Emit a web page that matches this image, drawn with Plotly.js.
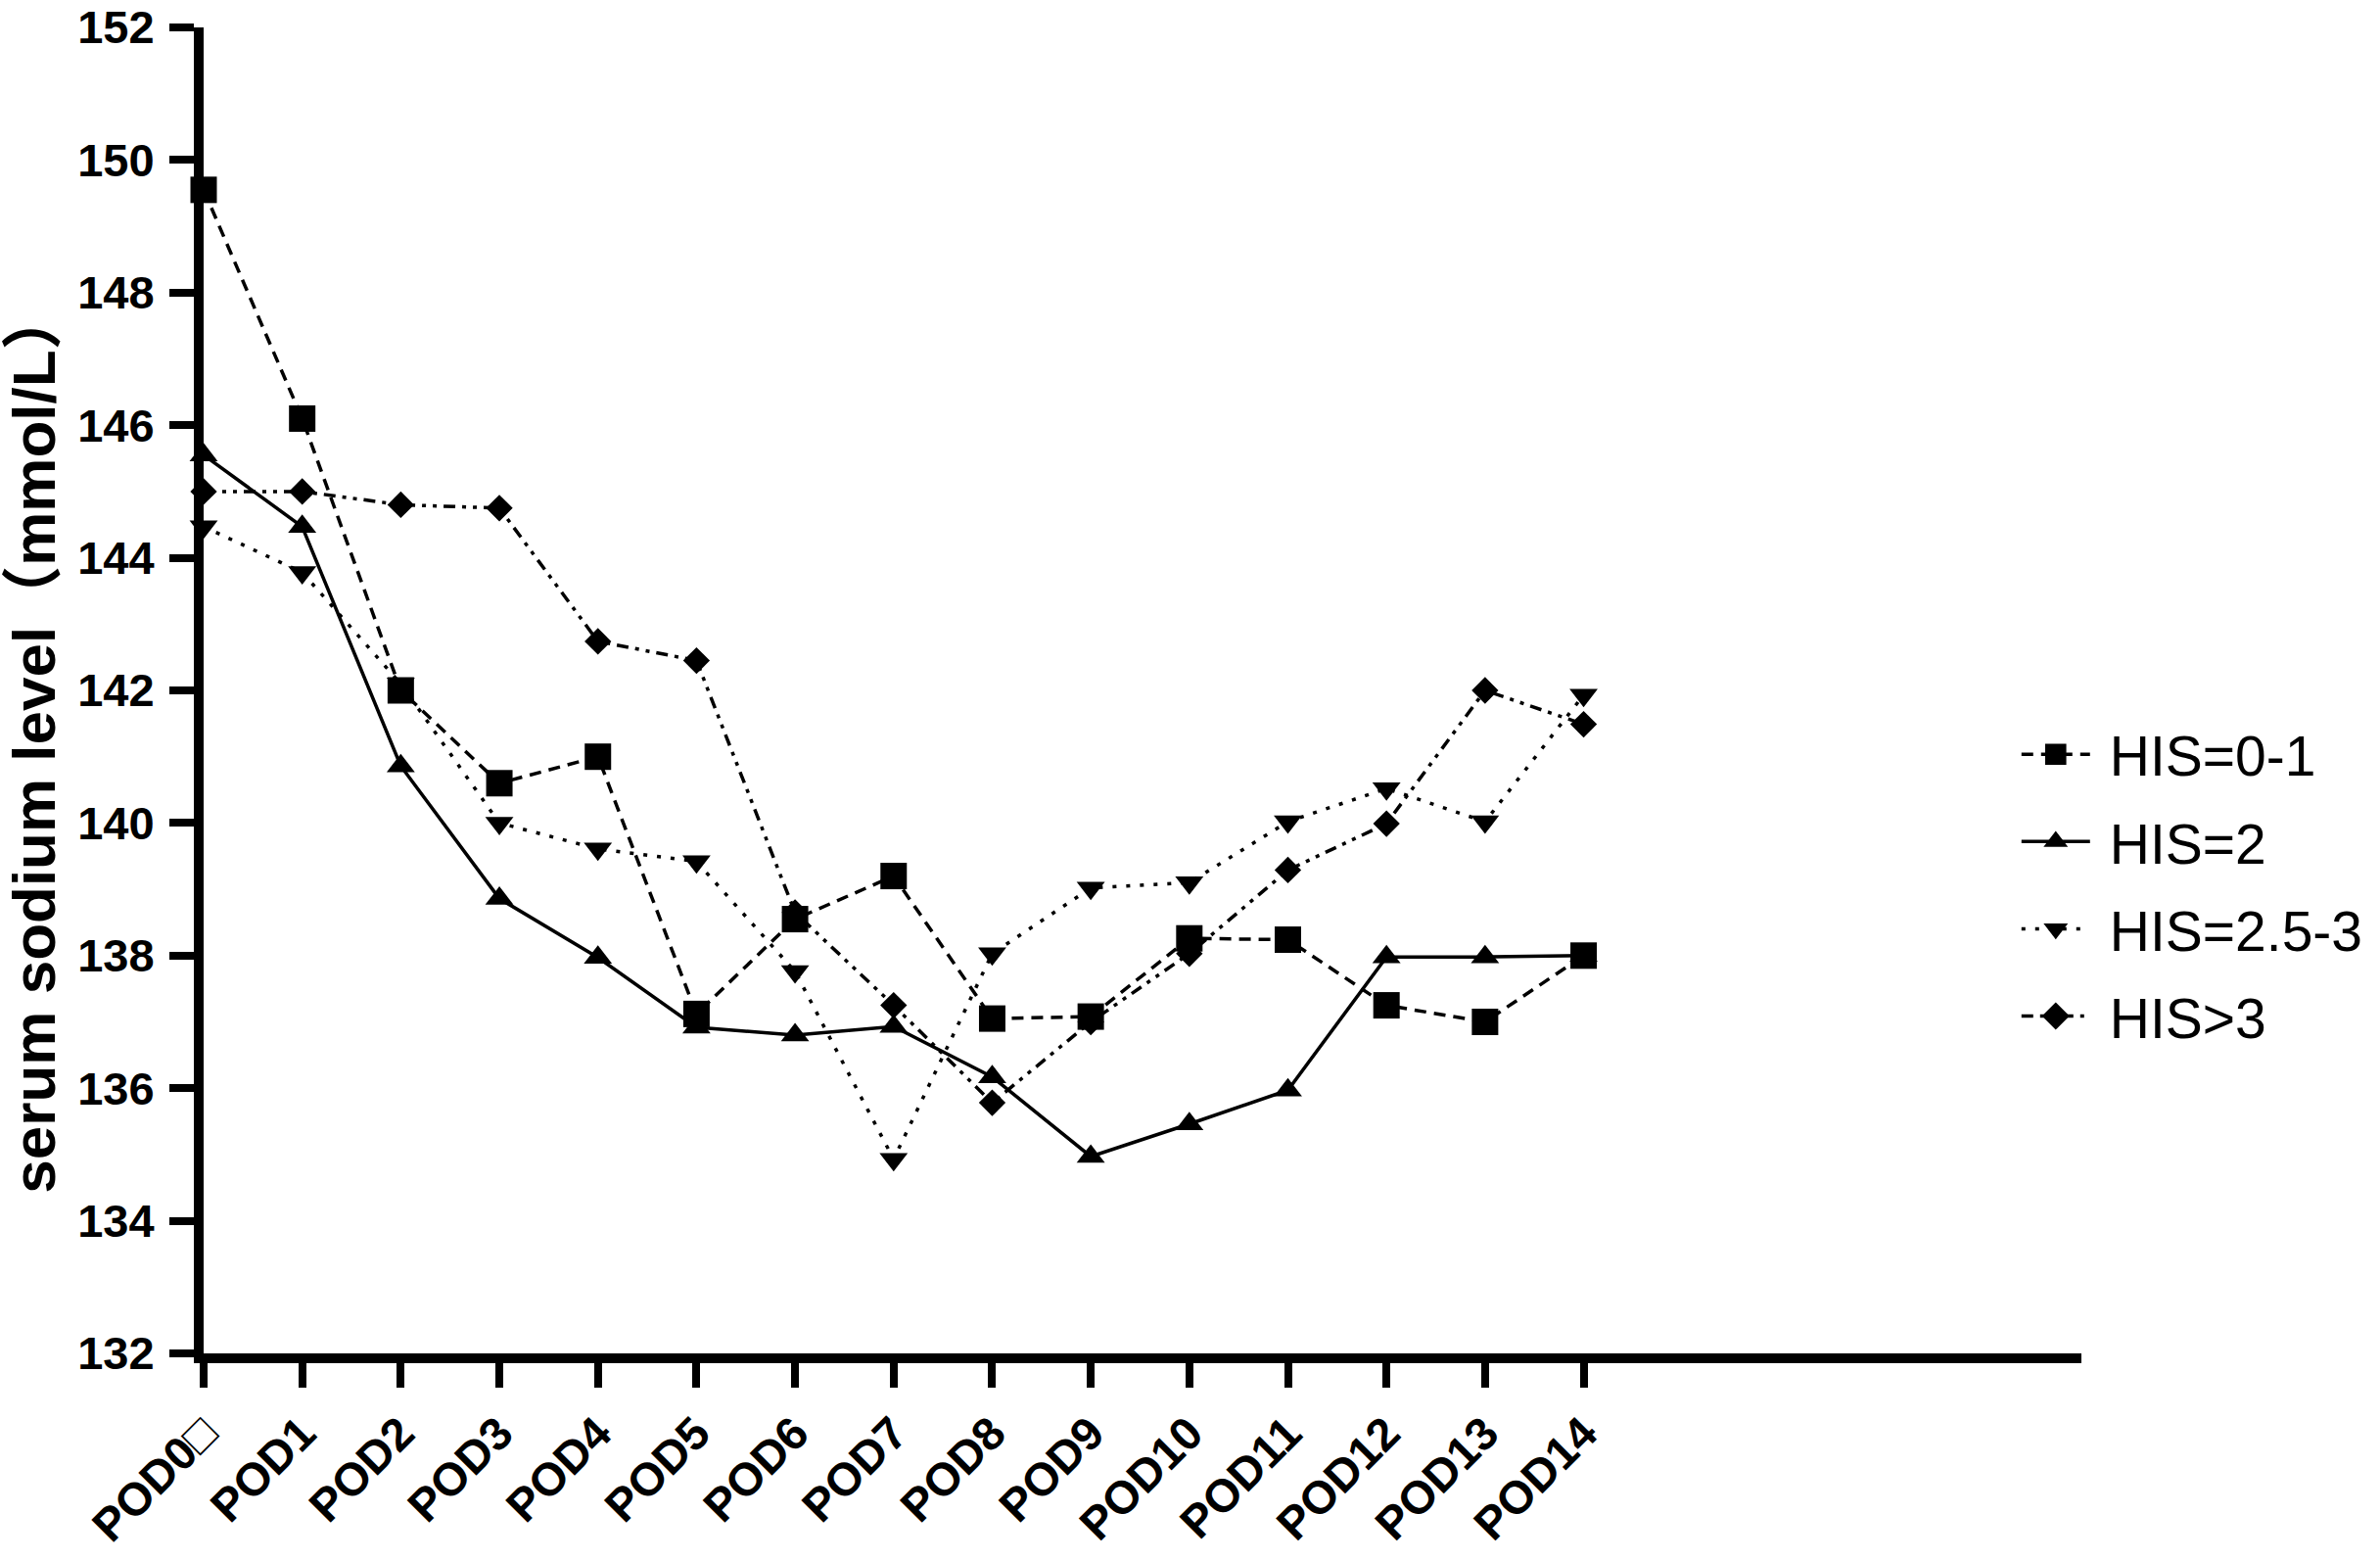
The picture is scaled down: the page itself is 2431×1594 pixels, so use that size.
<!DOCTYPE html>
<html>
<head>
<meta charset="utf-8">
<script src="https://cdn.plot.ly/plotly-3.0.1.min.js"></script>
<style>
  html, body { margin: 0; padding: 0; background: #ffffff; }
  #chart { width: 2431px; height: 1594px; }
</style>
</head>
<body>
<div id="chart"></div>
<script>
// ---- data ----
const days = [0, 1, 2, 3, 4, 5, 6, 7, 8, 9, 10, 11, 12, 13, 14];
const dayLabels = ["POD0\u25A1", "POD1", "POD2", "POD3", "POD4", "POD5", "POD6", "POD7",
                   "POD8", "POD9", "POD10", "POD11", "POD12", "POD13", "POD14"];
const his01  = [149.55, 146.1, 142.0, 140.6, 141.0, 137.12, 138.55, 139.2, 137.05, 137.08, 138.26, 138.24, 137.25, 137.0, 138.0];
const his2   = [145.55, 144.47, 140.86, 138.86, 137.97, 136.92, 136.8, 136.93, 136.17, 134.97, 135.46, 135.97, 137.98, 137.98, 138.0];
const his253 = [144.47, 143.78, 142.1, 140.0, 139.61, 139.42, 137.76, 134.93, 138.03, 139.02, 139.1, 140.02, 140.52, 140.02, 141.93];
const hisGt3 = [145.0, 145.0, 144.8, 144.75, 142.74, 142.45, 138.65, 137.25, 135.78, 137.0, 138.03, 139.29, 139.99, 142.0, 141.49];
const seriesNames = ["HIS=0-1", "HIS=2", "HIS=2.5-3", "HIS>3"];
const yTicks = [132, 134, 136, 138, 140, 142, 144, 146, 148, 150, 152];
const yTitle = "serum sodium level\uFF08mmol/L\uFF09";

const black = "#000000";
function mk(name, y, symbol, size, dash, grp) {
  return {
    type: "scatter", mode: "lines+markers", name: name, x: days, y: y,
    legendgroup: grp, cliponaxis: false,
    line: { color: black, width: 3.5, dash: dash },
    marker: { color: black, symbol: symbol, size: size, line: { width: 0 } }
  };
}

const traces = [
  mk(seriesNames[0], his01,  "square",        27, "12px,8px", "a"),
  mk(seriesNames[1], his2,   "triangle-up",   25, "solid", "b"),
  mk(seriesNames[2], his253, "triangle-down", 25, "4px,10px", "c"),
  mk(seriesNames[3], hisGt3, "diamond",       21, "12px,7px,4px,7px,4px,7px", "d")
];

const tickFont = { family: "Liberation Sans, Arial, sans-serif", size: 47, color: black, weight: "bold" };

const layout = {
  width: 2431, height: 1594,
  paper_bgcolor: "#ffffff", plot_bgcolor: "#ffffff",
  margin: { l: 208, r: 299, t: 28, b: 212 },
  showlegend: true,
  legend: {
    x: 0.966, xanchor: "left", y: 0.484, yanchor: "top",
    font: { family: "Liberation Sans, Arial, sans-serif", size: 57, color: black },
    traceorder: "grouped", tracegroupgap: 12, itemwidth: 84,
    bgcolor: "rgba(0,0,0,0)"
  },
  xaxis: {
    range: [0, 19.05], showgrid: false, zeroline: false,
    showline: true, linecolor: black, linewidth: 10,
    tickmode: "array", tickvals: days, ticktext: dayLabels,
    ticks: "outside", ticklen: 25, tickwidth: 8, tickcolor: black,
    tickangle: -45, tickfont: tickFont, ticklabeloverflow: "allow"
  },
  yaxis: {
    range: [132, 152], showgrid: false, zeroline: false,
    showline: true, linecolor: black, linewidth: 10,
    tickmode: "array", tickvals: yTicks,
    ticks: "outside", ticklen: 25, tickwidth: 8, tickcolor: black,
    tickfont: tickFont, ticklabelstandoff: 6, ticklabeloverflow: "allow",
    title: {
      text: yTitle,
      font: { family: "Liberation Sans, Noto Sans CJK SC, sans-serif", size: 62, color: black, weight: "bold" },
      standoff: 22
    }
  }
};

Plotly.newPlot("chart", traces, layout, { displayModeBar: false, staticPlot: true }).then(function (gd) {
  // lengthen legend line samples and enlarge legend symbols to match the reference key
  const items = gd.querySelectorAll(".legend .traces");
  items.forEach(function (g) {
    const txt = g.querySelector("text.legendtext");
    if (!txt) return;
    const tx = parseFloat(txt.getAttribute("x")) || 94;
    const end = tx - 20;
    const start = Math.max(1, end - 70);
    const cx = (start + end) / 2;
    g.querySelectorAll(".legendlines path").forEach(function (p) {
      p.setAttribute("d", "M" + start + ",0H" + end);
    });
    g.querySelectorAll(".legendpoints path").forEach(function (p) {
      p.setAttribute("transform", "translate(" + cx + ",0) scale(1.35)");
    });
  });
  // the reference's y title sits a little below the plot's vertical centre
  const yt = gd.querySelector(".g-ytitle");
  if (yt) {
    const prev = yt.getAttribute("transform") || "";
    yt.setAttribute("transform", prev + " translate(0,52)");
  }
});
</script>
</body>
</html>
